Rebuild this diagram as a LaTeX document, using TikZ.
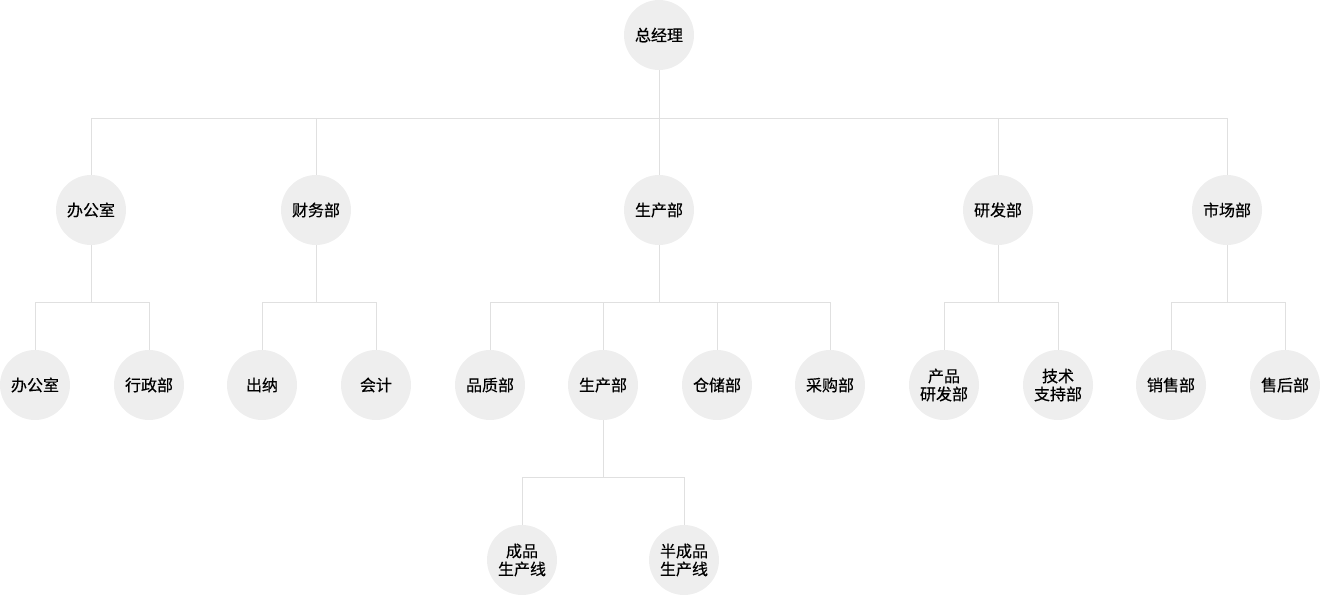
\documentclass[tikz,border=0pt]{standalone}
\usepackage{fontspec}
\newfontfamily\cjk[FakeBold=0.4]{Noto Sans CJK SC}
\definecolor{boxgray}{HTML}{EEEEEE}
\definecolor{linegray}{HTML}{E0E0E0}
\definecolor{textblack}{HTML}{000000}
\tikzset{
  dept/.style={circle, fill=boxgray, minimum size=52.5pt, inner sep=0pt,
    text=textblack, align=center, font=\cjk\fontsize{12}{13.5}\selectfont},
  link/.style={draw=linegray, line width=0.75pt}
}

\begin{document}
\begin{tikzpicture}[x=0.75pt,y=-0.75pt]
\useasboundingbox (0,0) rectangle (1320,595);
% top
\node[dept] (zjl) at (659,35) {总经理};
% second row
\node[dept] (bgs) at (91,210) {办公室};
\node[dept] (cwb) at (316,210) {财务部};
\node[dept] (scb) at (659,210) {生产部};
\node[dept] (yfb) at (998,210) {研发部};
\node[dept] (sc) at (1227,210) {市场部};
% third row
\node[dept] (bgs1) at (35,385) {办公室};
\node[dept] (xzb) at (149,385) {行政部};
\node[dept] (cn) at (262,385) {出纳};
\node[dept] (kj) at (376,385) {会计};
\node[dept] (pzb) at (490,385) {品质部};
\node[dept] (scb1) at (603,385) {生产部};
\node[dept] (ccb) at (717,385) {仓储部};
\node[dept] (cgb) at (830,385) {采购部};
\node[dept] (cpyf) at (944,385) {产品\\研发部};
\node[dept] (jszc) at (1058,385) {技术\\支持部};
\node[dept] (xsb) at (1171,385) {销售部};
\node[dept] (shb) at (1285,385) {售后部};
% fourth row
\node[dept] (cpx) at (522,560) {成品\\生产线};
\node[dept] (bcpx) at (684,560) {半成品\\生产线};

% bus points
\coordinate (j0) at (659,119);
\coordinate (j1) at (91,302);
\coordinate (j2) at (316,302);
\coordinate (j3) at (659,302);
\coordinate (j4) at (998,302);
\coordinate (j5) at (1227,302);
\coordinate (j6) at (603,477);

\draw[link] (zjl) -- (j0);
\draw[link] (j0) -| (bgs);
\draw[link] (j0) -| (cwb);
\draw[link] (j0) -- (scb);
\draw[link] (j0) -| (yfb);
\draw[link] (j0) -| (sc);

\draw[link] (bgs) -- (j1);
\draw[link] (j1) -| (bgs1);
\draw[link] (j1) -| (xzb);
\draw[link] (cwb) -- (j2);
\draw[link] (j2) -| (cn);
\draw[link] (j2) -| (kj);
\draw[link] (scb) -- (j3);
\draw[link] (j3) -| (pzb);
\draw[link] (j3) -| (scb1);
\draw[link] (j3) -| (ccb);
\draw[link] (j3) -| (cgb);
\draw[link] (yfb) -- (j4);
\draw[link] (j4) -| (cpyf);
\draw[link] (j4) -| (jszc);
\draw[link] (sc) -- (j5);
\draw[link] (j5) -| (xsb);
\draw[link] (j5) -| (shb);

\draw[link] (scb1) -- (j6);
\draw[link] (j6) -| (cpx);
\draw[link] (j6) -| (bcpx);
\end{tikzpicture}
\end{document}
